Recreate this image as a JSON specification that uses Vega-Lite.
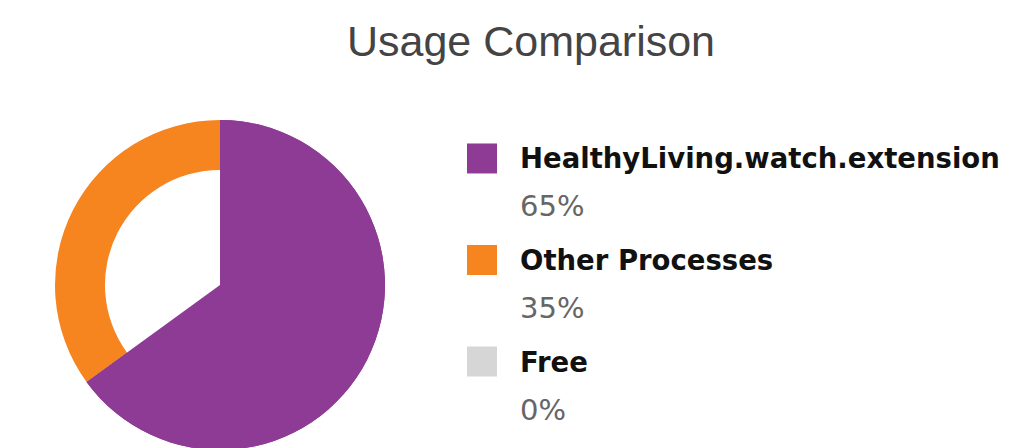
{
  "$schema": "https://vega.github.io/schema/vega-lite/v6.json",
  "padding": {"left": 55, "top": 22, "right": 0, "bottom": 0},
  "autosize": {"type": "pad"},
  "background": "white",
  "title": {
    "text": "Usage Comparison",
    "anchor": "middle",
    "frame": "bounds",
    "font": "Liberation Sans",
    "fontSize": 43,
    "fontWeight": "normal",
    "color": "#444444",
    "offset": 55
  },
  "data": {
    "values": [
      {"name": "HealthyLiving.watch.extension", "share": 0.65},
      {"name": "Other Processes", "share": 0.35},
      {"name": "Free", "share": 0}
    ]
  },
  "spacing": 80,
  "hconcat": [
    {
      "width": 330,
      "height": 330,
      "layer": [
        {
          "mark": {"type": "arc", "innerRadius": 115, "outerRadius": 165},
          "encoding": {
            "theta": {"field": "share", "type": "quantitative", "stack": true},
            "color": {
              "field": "name",
              "type": "nominal",
              "scale": {
                "domain": ["HealthyLiving.watch.extension", "Other Processes", "Free"],
                "range": ["#8e3b96", "#f6841f", "#d6d6d6"]
              },
              "legend": null
            }
          }
        },
        {
          "mark": {"type": "arc", "innerRadius": 0, "outerRadius": 165},
          "encoding": {
            "theta": {"field": "share", "type": "quantitative", "stack": true},
            "color": {
              "field": "name",
              "type": "nominal",
              "scale": {
                "domain": ["HealthyLiving.watch.extension", "Other Processes", "Free"],
                "range": ["#8e3b96", "#f6841f", "#d6d6d6"]
              },
              "legend": null
            },
            "opacity": {
              "condition": {"test": "datum.name === 'HealthyLiving.watch.extension'", "value": 1},
              "value": 0
            }
          }
        }
      ]
    },
    {
      "width": 542,
      "height": 280,
      "encoding": {
        "y": {
          "field": "name",
          "type": "nominal",
          "sort": ["HealthyLiving.watch.extension", "Other Processes", "Free"],
          "scale": {"type": "point", "padding": 0.379},
          "axis": null
        }
      },
      "layer": [
        {
          "mark": {"type": "point", "shape": "square", "filled": true, "size": 900, "opacity": 1},
          "encoding": {
            "x": {"value": 17},
            "color": {
              "field": "name",
              "type": "nominal",
              "scale": {
                "domain": ["HealthyLiving.watch.extension", "Other Processes", "Free"],
                "range": ["#8e3b96", "#f6841f", "#d6d6d6"]
              },
              "legend": null
            }
          }
        },
        {
          "mark": {"type": "text", "font": "DejaVu Sans", "fontWeight": "bold", "fontSize": 27.5, "align": "left", "baseline": "alphabetic", "dy": 10, "color": "#111111"},
          "encoding": {
            "x": {"value": 55},
            "text": {"field": "name", "type": "nominal"}
          }
        },
        {
          "mark": {"type": "text", "font": "DejaVu Sans", "fontSize": 29, "align": "left", "baseline": "alphabetic", "dy": 58, "color": "#666666"},
          "encoding": {
            "x": {"value": 55},
            "text": {"field": "share", "type": "quantitative", "format": ".0%"}
          }
        }
      ]
    }
  ],
  "config": {"view": {"stroke": null}}
}
